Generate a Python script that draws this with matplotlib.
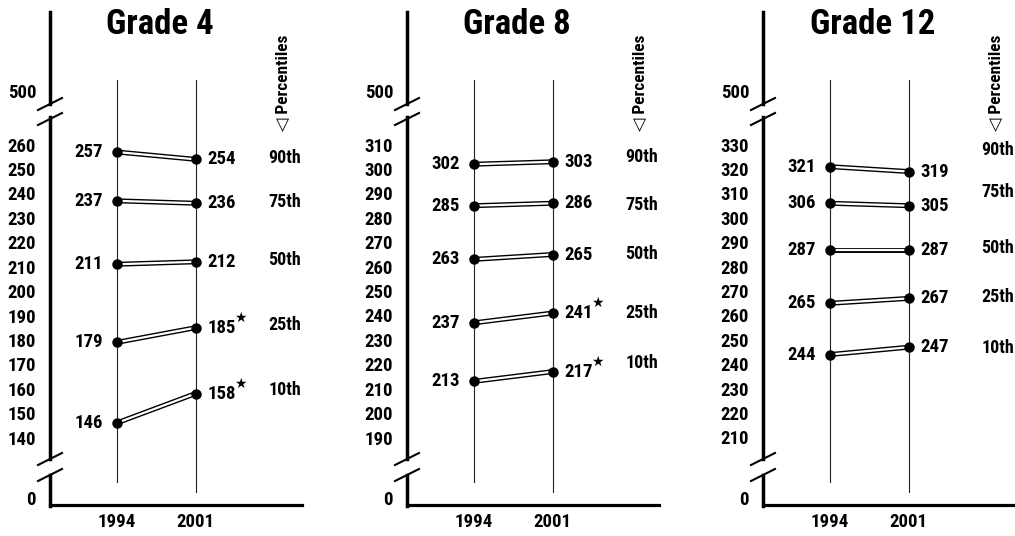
import matplotlib
matplotlib.use('Agg')
import matplotlib.pyplot as plt
from matplotlib.transforms import Affine2D
from matplotlib.lines import Line2D
from matplotlib import font_manager as fm

# ---------------- data ----------------
years = ['1994', '2001']
percentiles = ['90th', '75th', '50th', '25th', '10th']
grades = ['Grade 4', 'Grade 8', 'Grade 12']

g4_1994 = [257, 237, 211, 179, 146]
g4_2001 = [254, 236, 212, 185, 158]
g4_sig = [False, False, False, True, True]

g8_1994 = [302, 285, 263, 237, 213]
g8_2001 = [303, 286, 265, 241, 217]
g8_sig = [False, False, False, True, True]

g12_1994 = [321, 306, 287, 265, 244]
g12_2001 = [319, 305, 287, 267, 247]
g12_sig = [False, False, False, False, False]

g4_ticks = list(range(140, 261, 10))
g8_ticks = list(range(190, 311, 10))
g12_ticks = list(range(210, 331, 10))
break_top_label = '500'
break_bottom_label = '0'

# layout: vertical placement of the percentile names (score units)
g4_lab_y = [254.5, 236.5, 212.7, 186.1, 159.5]
g8_lab_y = [305.0, 285.3, 265.2, 241.0, 220.5]
g12_lab_y = [327.8, 310.6, 287.7, 267.6, 246.7]

panels = [
    (grades[0], g4_1994, g4_2001, g4_sig, g4_ticks, g4_lab_y),
    (grades[1], g8_1994, g8_2001, g8_sig, g8_ticks, g8_lab_y),
    (grades[2], g12_1994, g12_2001, g12_sig, g12_ticks, g12_lab_y),
]

# ---------------- layout ----------------
W, H = 1015, 536
installed = {f.name for f in fm.fontManager.ttflist}
pref = ['Roboto Condensed', 'Archivo Narrow', 'PT Sans Narrow', 'Barlow Condensed',
        'Saira Condensed', 'Sofia Sans Condensed']
FONT = [f for f in pref if f in installed][:1] + ['DejaVu Sans']
plt.rcParams['font.family'] = FONT
plt.rcParams['font.weight'] = 'bold'

fig = plt.figure(figsize=(W / 100, H / 100), dpi=100)
px = Affine2D().scale(1 / W, -1 / H).translate(0, 1) + fig.transFigure
PT = 0.72  # points per pixel

spine_x = [50, 407, 763]
TOP, BOT = 12, 505
AW = 252
K = 2.44          # pixels per score unit
X0 = 67           # spine -> 1994 line (px)
DX = 78.5         # 1994 -> 2001 (px)
LOW_PX = 437.5    # pixel row of the lowest tick
FS = 13.5

for sx, (title, v94, v01, sig, ticks, lab_y) in zip(spine_x, panels):
    ax = fig.add_axes([sx / W, 1 - BOT / H, AW / W, (BOT - TOP) / H])
    ax.patch.set_visible(False)
    ax.set_xlim(-X0 / DX, (AW - X0) / DX)
    low = ticks[0]
    ybot = low - (BOT - LOW_PX) / K
    ax.set_ylim(ybot, ybot + (BOT - TOP) / K)

    ypos = ticks + [low + (LOW_PX - 91) / K, low - (498 - LOW_PX) / K]
    ylab = [str(t) for t in ticks] + [break_top_label, break_bottom_label]
    ax.set_yticks(ypos, ylab)
    ax.tick_params(axis='y', length=0, pad=10, labelsize=FS)
    ax.set_xticks([0, 1], years)
    ax.tick_params(axis='x', length=0, pad=6, labelsize=FS)

    for s in ['top', 'right', 'left']:
        ax.spines[s].set_visible(False)
    ax.spines['bottom'].set_linewidth(2.3)
    ax.spines['bottom'].set_color('black')

    # broken left axis
    for y0, y1 in [(TOP, 104), (117, 459), (475, BOT + 1)]:
        fig.add_artist(Line2D([sx, sx], [y0, y1], transform=px, color='black', lw=2.5))
    for (ya, yb) in [(110, 98), (125, 113), (465, 453), (481, 469)]:
        fig.add_artist(Line2D([sx - 12, sx + 12], [ya, yb], transform=px, color='black', lw=1.5))

    # year guide lines
    xt = ax.get_xaxis_transform()
    ax.plot([0, 0], [(BOT - 80) / (BOT - TOP), (BOT - 482) / (BOT - TOP)], transform=xt,
            color='#222222', lw=0.8, zorder=1)
    ax.plot([1, 1], [(BOT - 80) / (BOT - TOP), (BOT - 492) / (BOT - TOP)], transform=xt,
            color='#222222', lw=0.8, zorder=1)

    for i in range(len(v94)):
        xs, ys = [0, 1], [v94[i], v01[i]]
        ax.plot(xs, ys, color='black', lw=3.6, solid_capstyle='butt', zorder=3)
        ax.plot(xs, ys, color='white', lw=1.6, solid_capstyle='butt', zorder=4)
        ax.plot(xs, ys, linestyle='none', marker='o', ms=6.5, color='black', zorder=5)
        ax.annotate(str(v94[i]), xy=(0, v94[i]), xytext=(-14 * PT, 0), textcoords='offset points',
                    ha='right', va='center', fontsize=FS)
        ax.annotate(str(v01[i]), xy=(1, v01[i]), xytext=(12 * PT, 0), textcoords='offset points',
                    ha='left', va='center', fontsize=FS)
        if sig[i]:
            ax.annotate('★', xy=(1, v01[i]), xytext=(45 * PT, 10 * PT), textcoords='offset points',
                        ha='center', va='center', fontsize=10, family='DejaVu Sans')
        ax.annotate(percentiles[i], xy=(1, lab_y[i]), xytext=(73 * PT, 0), textcoords='offset points',
                    ha='left', va='center', fontsize=13)

    fig.text(sx + 110, 24, title, transform=px, ha='center', va='center', fontsize=25)
    fig.text(sx + 233, 83, '◁ Percentiles', transform=px, rotation=90,
             ha='center', va='center', fontsize=12.5)

fig.savefig('out.png', dpi=100)
